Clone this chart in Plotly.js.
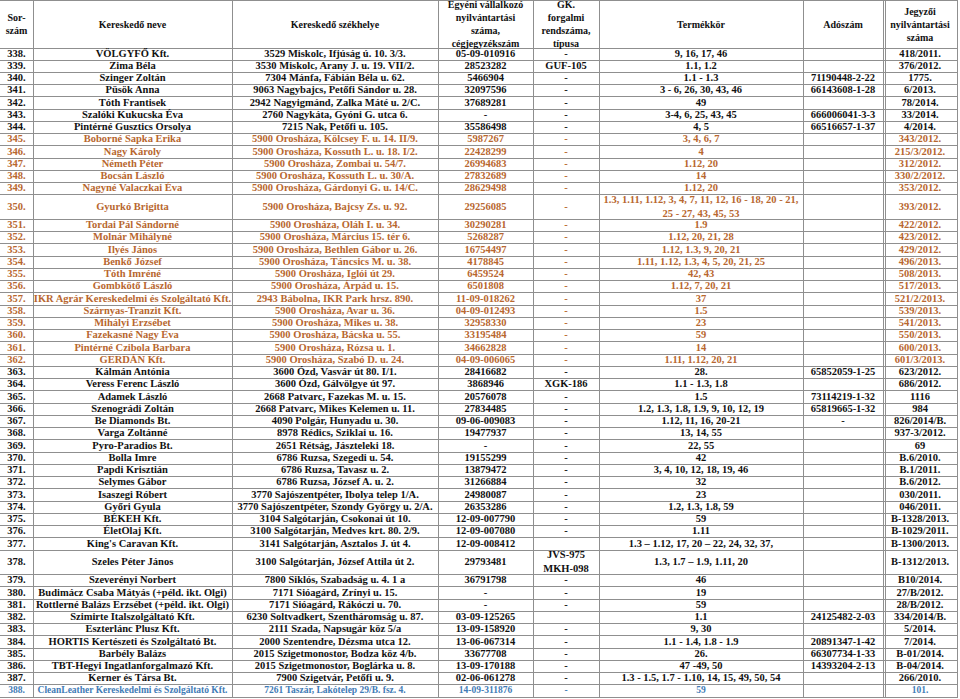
<!DOCTYPE html>
<html>
<head>
<meta charset="utf-8">
<script src="https://cdn.plot.ly/plotly-3.0.1.min.js"></script>
<style>html,body{margin:0;padding:0;background:#fff;}#chart{width:960px;height:699px;}</style>
</head>
<body>
<div id="chart"></div>
<script>
const headers = ["Sor-<br>szám","Kereskedő neve","Kereskedő székhelye","Egyéni vállalkozó<br>nyilvántartási<br>száma,<br>cégjegyzékszám","GK.<br>forgalmi<br>rendszáma,<br>típusa","Termékkör","Adószám","Jegyzői<br>nyilvántartási<br>száma"];

const sorszam = ["338.","339.","340.","341.","342.","343.","344.","345.","346.","347.","348.","349.","350.","351.","352.","353.","354.","355.","356.","357.","358.","359.","360.","361.","362.","363.","364.","365.","366.","367.","368.","369.","370.","371.","372.","373.","374.","375.","376.","377.","378.","379.","380.","381.","382.","383.","384.","385.","386.","387.","388."];

const nev = ["VÖLGYFŐ Kft.","Zima Béla","Szinger Zoltán","Püsök Anna","Tóth Frantisek","Szalóki Kukucska Éva","Pintérné Gusztics Orsolya","Boborné Sapka Erika","Nagy Károly","Németh Péter","Bocsán László","Nagyné Valaczkai Éva","Gyurkó Brigitta","Tordai Pál Sándorné","Molnár Mihályné","Ilyés János","Benkő József","Tóth Imréné","Gombkötő László","IKR Agrár Kereskedelmi és Szolgáltató Kft.","Szárnyas-Tranzit Kft.","Mihályi Erzsébet","Fazekasné Nagy Éva","Pintérné Czibola Barbara","GERDÁN Kft.","Kálmán Antónia","Veress Ferenc László","Adamek László","Szenográdi Zoltán","Be Diamonds Bt.","Varga Zoltánné","Pyro-Paradios Bt.","Bolla Imre","Papdi Krisztián","Selymes Gábor","Isaszegi Róbert","Győri Gyula","BÉKEH Kft.","ÉletOlaj Kft.","King's Caravan Kft.","Szeles Péter János","Szeverényi Norbert","Budimácz Csaba Mátyás (+péld. ikt. Olgi)","Rottlerné Balázs Erzsébet (+péld. ikt. Olgi)","Szimirte Italszolgáltató Kft.","Eszterlánc Plusz Kft.","HORTIS Kertészeti és Szolgáltató Bt.","Barbély Balázs","TBT-Hegyi Ingatlanforgalmazó Kft.","Kerner és Társa Bt.","CleanLeather Kereskedelmi és Szolgáltató Kft."];

const szekhely = ["3529 Miskolc, Ifjúság ú. 10. 3/3.","3530 Miskolc, Arany J. u. 19. VII/2.","7304 Mánfa, Fábián Béla u. 62.","9063 Nagybajcs, Petőfi Sándor u. 28.","2942 Nagyigmánd, Zalka Máté u. 2/C.","2760 Nagykáta, Gyóni G. utca 6.","7215 Nak, Petőfi u. 105.","5900 Orosháza, Kölcsey F. u. 14. II/9.","5900 Orosháza, Kossuth L. u. 18. I/2.","5900 Orosháza, Zombai u. 54/7.","5900 Orosháza, Kossuth L. u. 30/A.","5900 Orosháza, Gárdonyi G. u. 14/C.","5900 Orosháza, Bajcsy Zs. u. 92.","5900 Orosháza, Oláh I. u. 34.","5900 Orosháza, Március 15. tér 6.","5900 Orosháza, Bethlen Gábor u. 26.","5900 Orosháza, Táncsics M. u. 38.","5900 Orosháza, Iglói út 29.","5900 Orosháza, Árpád u. 15.","2943 Bábolna, IKR Park hrsz. 890.","5900 Orosháza, Avar u. 36.","5900 Orosháza, Mikes u. 38.","5900 Orosháza, Bácska u. 55.","5900 Orosháza, Rózsa u. 1.","5900 Orosháza, Szabó D. u. 24.","3600 Ózd, Vasvár út 80. I/1.","3600 Ózd, Gálvölgye út 97.","2668 Patvarc, Fazekas M. u. 15.","2668 Patvarc, Mikes Kelemen u. 11.","4090 Polgár, Hunyadu u. 30.","8978 Rédics, Sziklai u. 16.","2651 Rétság, Jászteleki 18.","6786 Ruzsa, Szegedi u. 54.","6786 Ruzsa, Tavasz u. 2.","6786 Ruzsa, József A. u. 2.","3770 Sajószentpéter, Ibolya telep 1/A.","3770 Sajószentpéter, Szondy György u. 2/A.","3104 Salgótarján, Csokonai út 10.","3100 Salgótarján, Medves krt. 80. 2/9.","3141 Salgótarján, Asztalos J. út 4.","3100 Salgótarján, József Attila út 2.","7800 Siklós, Szabadság u. 4. 1 a","7171 Sióagárd, Zrínyi u. 15.","7171 Sióagárd, Rákóczi u. 70.","6230 Soltvadkert, Szentháromság u. 87.","2111 Szada, Napsugár köz 5/a","2000 Szentendre, Dézsma utca 12.","2015 Szigetmonostor, Bodza köz 4/b.","2015 Szigetmonostor, Boglárka u. 8.","7900 Szigetvár, Petőfi u. 9.","7261 Taszár, Lakótelep 29/B. fsz. 4."];

const egyeni = ["05-09-010916","28523282","5466904","32097596","37689281","-","35586498","5987267","22428299","26994683","27832689","28629498","29256085","30290281","5268287","16754497","4178845","6459524","6501808","11-09-018262","04-09-012493","32958330","33195484","34662828","04-09-006065","28416682","3868946","20576078","27834485","09-06-009083","19477937","-","19155299","13879472","31266884","24980087","26353286","12-09-007790","12-09-007080","12-09-008412","29793481","36791798","-","-","03-09-125265","13-09-158920","13-06-067314","33677708","13-09-170188","02-06-061278","14-09-311876"];

const gk = ["-","GUF-105","-","-","-","-","-","-","-","-","-","-","-","-","-","-","-","-","-","-","-","-","-","-","-","-","XGK-186","-","-","-","-","-","-","-","-","-","-","-","-","","JVS-975<br>MKH-098","-","-","-","","-","-","-","-","-","-"];

const termekkor = ["9, 16, 17, 46","1.1, 1.2","1.1 - 1.3","3 - 6, 26, 30, 43, 46","49","3-4, 6, 25, 43, 45","4, 5","3, 4, 6, 7","4","1.12, 20","14","1.12, 20","1.3, 1.11, 1.12, 3, 4, 7, 11, 12, 16 - 18, 20 - 21,<br>25 - 27, 43, 45, 53","1.9","1.12, 20, 21, 28","1.12, 1.3, 9, 20, 21","1.11, 1.12, 1.3, 4, 5, 20, 21, 25","42, 43","1.12, 7, 20, 21","37","1.5","23","59","14","1.11, 1.12, 20, 21","28.","1.1 - 1.3, 1.8","1.5","1.2, 1.3, 1.8, 1.9, 9, 10, 12, 19","1.12, 11, 16, 20-21","13, 14, 55","22, 55","42","3, 4, 10, 12, 18, 19, 46","32","23","1.2, 1.3, 1.8, 59","59","1.11","1.3 – 1.12, 17, 20 – 22, 24, 32, 37,","1.3, 1.7 – 1.9, 1.11, 20","46","19","59","1.1","9, 30","1.1 - 1.4, 1.8 - 1.9","26.","47 -49, 50","1.3 - 1.5, 1.7 - 1.10, 14, 15, 49, 50, 54","59"];

const adoszam = ["","","71190448-2-22","66143608-1-28","","666006041-3-3","66516657-1-37","","","","","","","","","","","","","","","","","","","65852059-1-25","","73114219-1-32","65819665-1-32","-","","","","","","","","","","","","","","","24125482-2-03","","20891347-1-42","66307734-1-33","14393204-2-13","",""];

const jegyzoi = ["418/2011.","376/2012.","1775.","6/2013.","78/2014.","33/2014.","4/2014.","343/2012.","215/3/2012.","312/2012.","330/2/2012.","353/2012.","393/2012.","422/2012.","423/2012.","429/2012.","496/2013.","508/2013.","517/2013.","521/2/2013.","539/2013.","541/2013.","550/2013.","600/2013.","601/3/2013.","623/2012.","686/2012.","1116","984","826/2014/B.","937-3/2012.","69","B.6/2010.","B.1/2011.","B.6/2012.","030/2011.","046/2011.","B-1328/2013.","B-1029/2011.","B-1300/2013.","B-1312/2013.","B10/2014.","27/B/2012.","28/B/2012.","334/2014/B.","5/2014.","7/2014.","B-01/2014.","B-04/2014.","266/2010.","101."];

// row groups: 0 = black, 1 = orange (Orosháza list), 2 = blue
const rowGroup = ["0","0","0","0","0","0","0","1","1","1","1","1","1","1","1","1","1","1","1","1","1","1","1","1","1","0","0","0","0","0","0","0","0","0","0","0","0","0","0","0","0","0","0","0","0","0","0","0","0","0","2"];

// ---- styling / layout (not data) ----
const groupColors = {"0":"#111111","1":"#b8672f","2":"#3f7bb6"};
const groupSizes = {"0":10.5,"1":10.5,"2":9.5};
const FONT = "Times New Roman, Liberation Serif, serif";
const colWidths = [33, 199, 206, 95, 66, 204, 80, 74];
const HEADER_H = 47;
const PLOT_H = 696;

const cols = [sorszam, nev, szekhely, egyeni, gk, termekkor, adoszam, jegyzoi];
const nRows = sorszam.length;

// column boundaries and centers
const colEdges = [0];
colWidths.forEach(w => colEdges.push(colEdges[colEdges.length - 1] + w));
const colCenters = colWidths.map((w, i) => colEdges[i] + w / 2);
const tableW = colEdges[colEdges.length - 1];

// row line counts -> heights
const lineCounts = [];
for (let r = 0; r < nRows; r++) {
  let m = 1;
  cols.forEach(c => { m = Math.max(m, c[r].split("<br>").length); });
  lineCounts.push(m);
}
const totalUnits = lineCounts.reduce((a, b) => a + b, 0);
const unit = (PLOT_H - HEADER_H) / totalUnits;
const rowEdges = [0, HEADER_H];
const rowCenters = [];
lineCounts.forEach(n => {
  const top = rowEdges[rowEdges.length - 1];
  rowCenters.push(top + n * unit / 2);
  rowEdges.push(top + n * unit);
});

const rowColors = rowGroup.map(g => groupColors[g]);
const rowSizes = rowGroup.map(g => groupSizes[g]);
const b = s => s === "" ? "" : "<b>" + s + "</b>";

const traces = [];
// header
traces.push({
  type: "scatter", mode: "text",
  x: colCenters, y: colCenters.map(() => HEADER_H / 2 + 0.5),
  text: headers.map(b),
  textposition: "middle center",
  textfont: {family: FONT, size: 10, color: "#111111"},
  hoverinfo: "skip", showlegend: false, cliponaxis: false
});
// body columns
cols.forEach((c, i) => {
  traces.push({
    type: "scatter", mode: "text",
    x: c.map(() => colCenters[i]), y: rowCenters,
    text: c.map(b),
    textposition: "middle center",
    textfont: {family: FONT, size: rowSizes, color: rowColors},
    hoverinfo: "skip", showlegend: false, cliponaxis: false
  });
});

// vertical grid: column edges plus the double line before the last column
const xGrid = colEdges.slice();
xGrid.push(colEdges[colEdges.length - 2] + 2.5);

const layout = {
  width: 960, height: 699,
  margin: {l: 0, r: 960 - tableW, t: 1, b: 699 - 1 - PLOT_H, pad: 0},
  paper_bgcolor: "#ffffff", plot_bgcolor: "#ffffff",
  showlegend: false,
  xaxis: {range: [0, tableW], tickvals: xGrid, showticklabels: false, ticks: "",
          showgrid: true, gridcolor: "#8f8f8f", gridwidth: 1, zeroline: false,
          showline: true, mirror: true, linecolor: "#8f8f8f", linewidth: 1, fixedrange: true},
  yaxis: {range: [PLOT_H, 0], tickvals: rowEdges, showticklabels: false, ticks: "",
          showgrid: true, gridcolor: "#8f8f8f", gridwidth: 1, zeroline: false,
          showline: true, mirror: true, linecolor: "#8f8f8f", linewidth: 1, fixedrange: true}
};

Plotly.newPlot("chart", traces, layout, {displayModeBar: false, staticPlot: true});
</script>
</body>
</html>
